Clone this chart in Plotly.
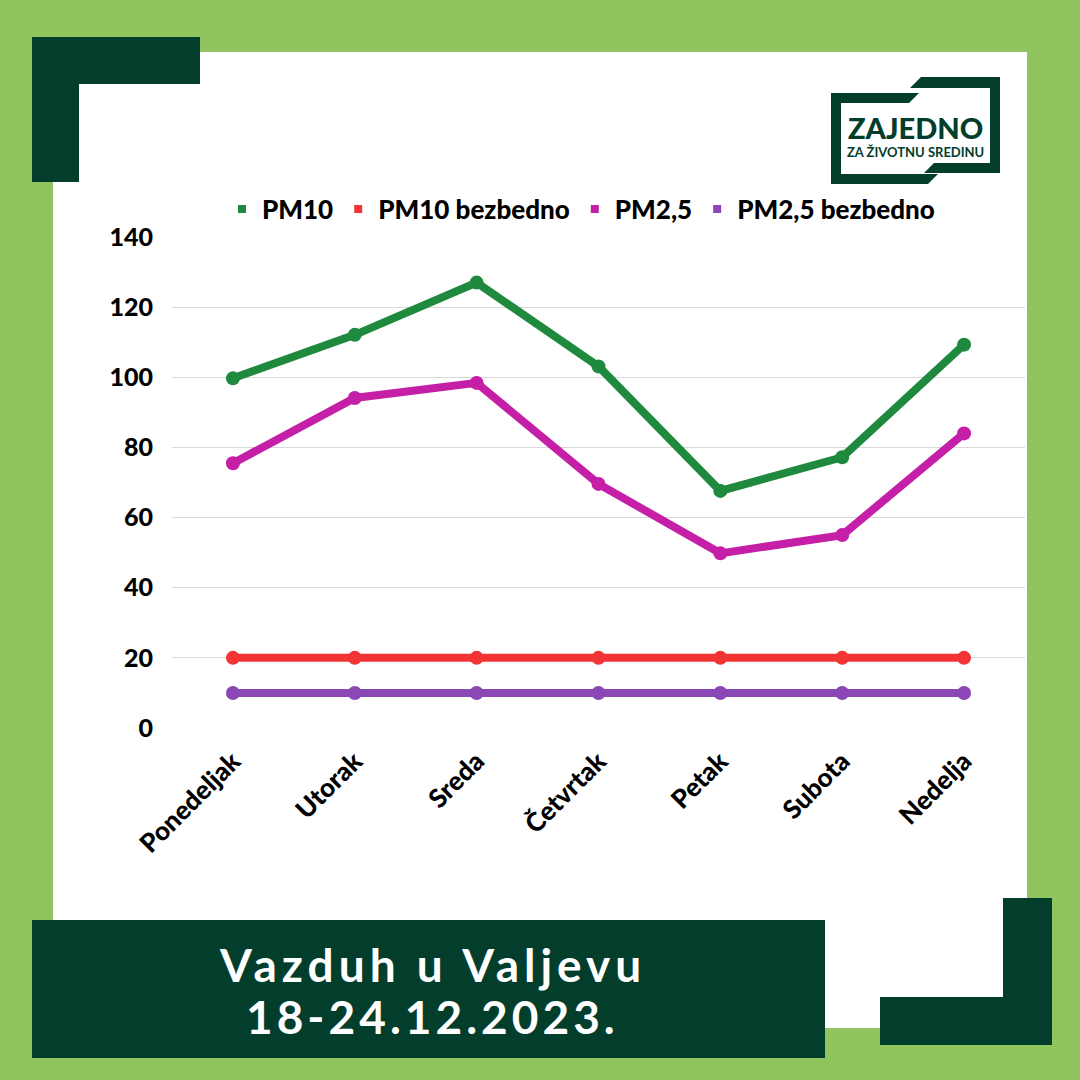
import plotly.graph_objects as go

days = ["Ponedeljak", "Utorak", "Sreda", "Četvrtak", "Petak", "Subota", "Nedelja"]
pm10 = [99.7, 112.1, 127.0, 103.1, 67.6, 77.2, 109.3]
pm10_safe = [20, 20, 20, 20, 20, 20, 20]
pm25 = [75.5, 94.1, 98.4, 69.6, 49.8, 55.0, 84.0]
pm25_safe = [10, 10, 10, 10, 10, 10, 10]
series_names = ["PM10", "PM10 bezbedno", "PM2,5", "PM2,5 bezbedno"]
y_ticks = [0, 20, 40, 60, 80, 100, 120, 140]
title_lines = ["Vazduh u Valjevu", "18-24.12.2023."]
logo_lines = ["ZAJEDNO", "ZA ŽIVOTNU SREDINU"]

colors = ["#1f8a3d", "#f23434", "#c41fa6", "#8b47b5"]
DARK = "#033d2c"
LIGHT = "#8fc45f"
FONT = "Lato"

W = H = 1080
PL, PR, PT, PB = 172, 1025, 237, 728  # plot area in pixels


def X(px):
    return (px - PL) / (PR - PL)


def Y(py):
    return (PB - py) / (PB - PT)


fig = go.Figure()
for name, vals, col in zip(series_names, [pm10, pm10_safe, pm25, pm25_safe], colors):
    fig.add_trace(go.Scatter(
        x=days, y=vals, mode="lines+markers", name=name,
        line=dict(color=col, width=8), marker=dict(color=col, size=14),
        showlegend=False, cliponaxis=False))
# legend entries (small squares)
for name, col in zip(series_names, colors):
    fig.add_trace(go.Scatter(
        x=[None], y=[None], mode="markers", name=name,
        marker=dict(color=col, size=8, symbol="square")))

shapes = []


def rect(x0, y0, x1, y1, color, layer="below"):
    shapes.append(dict(type="rect", xref="paper", yref="paper",
                       x0=X(x0), x1=X(x1), y0=Y(y1), y1=Y(y0),
                       fillcolor=color, line=dict(width=0), layer=layer))


def poly(pts, color, layer="below"):
    path = "M " + " L ".join(f"{X(a):.5f},{Y(b):.5f}" for a, b in pts) + " Z"
    shapes.append(dict(type="path", xref="paper", yref="paper", path=path,
                       fillcolor=color, line=dict(width=0), layer=layer))


# white panel
rect(53, 52, 1027, 1028, "white")
# top-left L
rect(32, 37, 200, 84, DARK)
rect(32, 37, 79, 182, DARK)
# bottom-right L
rect(1003, 898, 1052, 1045, DARK)
rect(880, 997, 1052, 1045, DARK)
# title box
rect(32, 920, 825, 1058, DARK)

# logo frame
rect(831, 93, 841, 184, DARK)
poly([(831, 93), (919, 93), (909, 103), (831, 103)], DARK)
poly([(831, 174), (938, 174), (928, 184), (831, 184)], DARK)
rect(990, 77, 1000, 173, DARK)
poly([(921, 77), (1000, 77), (1000, 88), (910, 88)], DARK)
poly([(934, 163), (1000, 163), (1000, 173), (924, 173)], DARK)


def spaced(t, px):
    return f'<span style="letter-spacing:{px}px">{t}</span>'


annotations = [
    dict(text=spaced(title_lines[0], 5), x=X(432), y=Y(964), xref="paper", yref="paper",
         showarrow=False, xanchor="center", yanchor="middle",
         font=dict(family=FONT, size=46, color="white", weight="bold")),
    dict(text=spaced(title_lines[1], 4), x=X(432), y=Y(1016), xref="paper", yref="paper",
         showarrow=False, xanchor="center", yanchor="middle",
         font=dict(family=FONT, size=46, color="white", weight="bold")),
    dict(text=logo_lines[0], x=X(915), y=Y(127), xref="paper", yref="paper",
         showarrow=False, xanchor="center", yanchor="middle",
         font=dict(family=FONT, size=29, color=DARK, weight=900)),
    dict(text=logo_lines[1], x=X(915), y=Y(152), xref="paper", yref="paper",
         showarrow=False, xanchor="center", yanchor="middle",
         font=dict(family=FONT, size=13, color=DARK, weight="bold")),
]

fig.update_layout(
    width=W, height=H,
    margin=dict(l=PL, r=W - PR, t=PT, b=H - PB),
    paper_bgcolor=LIGHT, plot_bgcolor="rgba(0,0,0,0)",
    shapes=shapes, annotations=annotations,
    showlegend=True,
    legend=dict(orientation="h", x=X(222), y=Y(209), xanchor="left", yanchor="middle",
                font=dict(family=FONT, size=26, color="black", weight=900),
                bgcolor="rgba(0,0,0,0)", itemwidth=30, tracegroupgap=0),
    font=dict(family=FONT),
)
fig.update_xaxes(type="category", categoryorder="array", categoryarray=days,
                 range=[-0.5, 6.5], showgrid=False, showline=False, zeroline=False,
                 tickangle=-45, ticks="", ticklabelstandoff=12,
                 tickfont=dict(family=FONT, size=26, color="black", weight=900))
fig.update_yaxes(range=[0, 140], tickvals=y_ticks, showgrid=True, gridcolor="#d9d9d9",
                 gridwidth=1, zeroline=False, showline=False, ticks="",
                 ticklabelstandoff=18,
                 tickfont=dict(family=FONT, size=25, color="black", weight=900))

fig.write_html("out.html")
